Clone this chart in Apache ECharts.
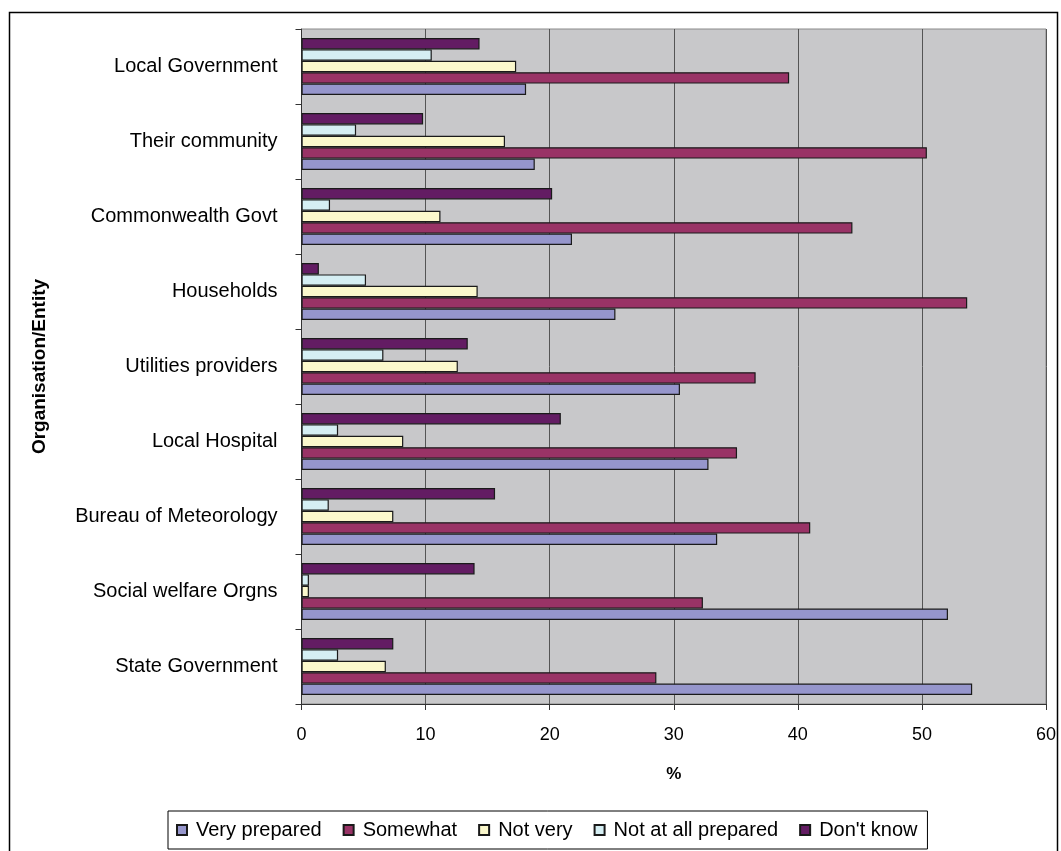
<!DOCTYPE html>
<html>
<head>
<meta charset="utf-8">
<script src="https://cdn.jsdelivr.net/npm/echarts@6/dist/echarts.min.js"></script>
<style>
html,body{margin:0;padding:0;background:#fff;}
#chart{width:1061px;height:851px;}
</style>
</head>
<body>
<div id="chart"></div>
<script>
// Categories listed bottom to top
const categories = ['State Government', 'Social welfare Orgns', 'Bureau of Meteorology', 'Local Hospital',
  'Utilities providers', 'Households', 'Commonwealth Govt', 'Their community', 'Local Government'];
const seriesNames = ['Very prepared', 'Somewhat', 'Not very', 'Not at all prepared', "Don't know"];
const veryPrepared = [54.05, 52.1, 33.5, 32.8, 30.5, 25.3, 21.8, 18.8, 18.1];
const somewhat = [28.6, 32.35, 41.0, 35.1, 36.6, 53.65, 44.4, 50.4, 39.3];
const notVery = [6.8, 0.6, 7.4, 8.2, 12.6, 14.2, 11.2, 16.4, 17.3];
const notAtAll = [2.95, 0.6, 2.2, 2.95, 6.6, 5.2, 2.3, 4.4, 10.5];
const dontKnow = [7.4, 13.95, 15.6, 20.9, 13.4, 1.4, 20.2, 9.8, 14.35];
const xTicks = [0, 10, 20, 30, 40, 50, 60];

const values = [veryPrepared, somewhat, notVery, notAtAll, dontKnow];
const colors = ['#9696CC', '#993366', '#FBF8CC', '#D5EEF3', '#631C63'];
const FONT = 'Liberation Sans';

const chart = echarts.init(document.getElementById('chart'));
// ECharts places the first series at the top of a horizontal band, so add them in reverse
const series = [];
for (let i = seriesNames.length - 1; i >= 0; i--) {
  series.push({
    name: seriesNames[i],
    type: 'bar',
    data: values[i],
    barGap: '0%',
    barCategoryGap: '24%',
    itemStyle: { color: colors[i], borderColor: '#1a1a1a', borderWidth: 1.2 }
  });
}

chart.setOption({
  animation: false,
  backgroundColor: '#fff',
  textStyle: { fontFamily: FONT },
  graphic: [{
    type: 'rect',
    shape: { x: 9.5, y: 12.5, width: 1048, height: 860 },
    style: { fill: 'none', stroke: '#000', lineWidth: 1.5 },
    silent: true
  }],
  grid: {
    left: 301.5, right: 15, top: 29, bottom: 147,
    show: true, backgroundColor: '#C8C8CA', borderColor: '#8a8a8a', borderWidth: 1
  },
  legend: {
    data: seriesNames,
    left: 168, top: 811,
    orient: 'horizontal',
    itemWidth: 10, itemHeight: 10,
    itemGap: 21,
    icon: 'rect',
    padding: [8, 10, 8, 8],
    borderColor: '#000', borderWidth: 1,
    backgroundColor: '#fff',
    textStyle: { fontFamily: FONT, fontSize: 20, color: '#000', lineHeight: 22, padding: [0, 0, 0, 4] }
  },
  xAxis: {
    type: 'value',
    min: xTicks[0], max: xTicks[xTicks.length - 1], interval: 10,
    name: '%',
    nameLocation: 'middle',
    nameGap: 62,
    nameTextStyle: { fontFamily: FONT, fontSize: 17, fontWeight: 'bold', color: '#000' },
    axisLine: { show: true, lineStyle: { color: '#333', width: 1 } },
    axisTick: { show: true, length: 6, lineStyle: { color: '#333' } },
    axisLabel: { fontFamily: FONT, fontSize: 18, color: '#000', margin: 22 },
    splitLine: { show: true, lineStyle: { color: '#555', width: 1 } }
  },
  yAxis: {
    type: 'category',
    data: categories,
    name: 'Organisation/Entity',
    nameLocation: 'middle',
    nameGap: 252,
    nameRotate: 90,
    nameTextStyle: { fontFamily: FONT, fontSize: 19, fontWeight: 'bold', color: '#000' },
    axisLine: { show: true, lineStyle: { color: '#333', width: 1 } },
    axisTick: { show: true, length: 6, lineStyle: { color: '#333' } },
    axisLabel: { fontFamily: FONT, fontSize: 20, color: '#000', margin: 24 },
    splitLine: { show: false }
  },
  series: series
});
</script>
</body>
</html>
